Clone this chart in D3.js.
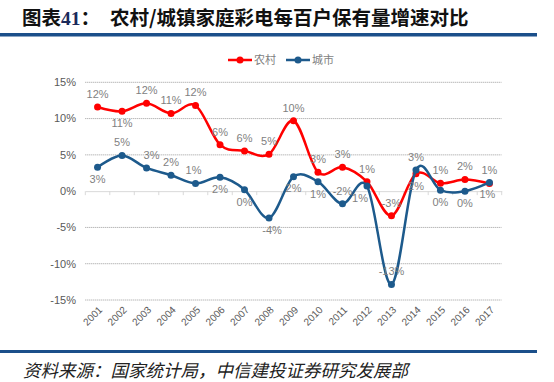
<!DOCTYPE html>
<html><head><meta charset="utf-8">
<script src="https://cdn.jsdelivr.net/npm/d3@7"></script>
<style>
html,body{margin:0;padding:0;background:#fff;}
svg{display:block;}
</style></head>
<body>
<svg id="c" width="554" height="382"></svg>
<script>
const years = ["2001","2002","2003","2004","2005","2006","2007","2008","2009","2010","2011","2012","2013","2014","2015","2016","2017"];
const rural = [11.6,11.0,12.1,10.7,11.8,6.4,5.55,5.1,9.7,2.6,3.3,1.3,-3.4,2.4,1.1,1.6,1.06];
const urban = [3.3,4.9,3.2,2.2,1.06,1.9,0.2,-3.7,2.0,1.3,-1.75,0.7,-12.85,2.9,0.14,0.0,1.2];
const seriesNames = ["农村","城市"];
const yTicks = [-15,-10,-5,0,5,10,15];
// label placement: a = above, b = below
const ruralPos = ["a","b","a","a","a","a","a","a","a","a","a","a","a","b","a","a","a"];
const urbanPos = ["b","a","a","a","a","b","b","b","b","b","a","b","a","a","b","b","b"];
const urbanDx  = [0,0,5,0,-2,0,0,3,0,0,0,-7,0,0,0,0,-2];

const svg = d3.select("#c");
const red = "#ff0000", blue = "#1d5a8c", gray = "#7f7f7f", axisGray = "#595959";

// Title
const t = svg.append("text").attr("x", 22).attr("y", 25)
  .attr("font-size", 19.5).attr("font-weight", "bold").attr("fill", "#111")
  .attr("font-family", "'Noto Sans CJK SC', sans-serif");
t.append("tspan").text("图表");
t.append("tspan").attr("font-family", "'Liberation Serif', serif").attr("fill", "#1a2a5a").text("41");
t.append("tspan").text("：");
svg.append("text").attr("x", 110).attr("y", 25)
  .attr("font-size", 19.5).attr("font-weight", "bold").attr("fill", "#111")
  .attr("font-family", "'Noto Sans CJK SC', sans-serif")
  .text("农村/城镇家庭彩电每百户保有量增速对比");
svg.append("rect").attr("x", 0).attr("y", 33).attr("width", 537).attr("height", 3.5).attr("fill", "#1b4f8a");

// Footer
svg.append("rect").attr("x", 0).attr("y", 350).attr("width", 537).attr("height", 3).attr("fill", "#1b4f8a");
svg.append("text").attr("x", 23).attr("y", 377)
  .attr("font-size", 17.5).attr("font-style", "italic").attr("fill", "#222")
  .attr("font-family", "'Noto Sans CJK SC', sans-serif")
  .text("资料来源：国家统计局，中信建投证券研究发展部");

// Scales
const x = d3.scaleBand().domain(years).range([85.3, 501.7]).padding(0);
const y = d3.scaleLinear().domain([-15, 15]).range([300, 82.3]);
const cx = d => x(d) + x.bandwidth() / 2;

// Gridlines
svg.append("g").selectAll("line").data(yTicks.filter(v => v !== 0)).join("line")
  .attr("x1", 85.3).attr("x2", 501.7)
  .attr("y1", d => y(d)).attr("y2", d => y(d))
  .attr("stroke", "#9a9a9a").attr("stroke-width", 1).attr("stroke-dasharray", "1,1");

// Y axis labels
svg.append("g").selectAll("text").data(yTicks).join("text")
  .attr("x", 76).attr("y", d => y(d)).attr("dy", "0.35em")
  .attr("text-anchor", "end").attr("font-size", 11)
  .attr("font-family", "'Liberation Sans', Arial, sans-serif").attr("fill", axisGray)
  .text(d => d + "%");

// X axis at 0
const xAxis = d3.axisBottom(x).tickSize(0).tickFormat("");
const gx = svg.append("g").attr("transform", `translate(0,${y(0)})`).call(xAxis);
gx.select(".domain").attr("stroke", "#d9d9d9");
svg.append("g").selectAll("line").data(years.concat(["end"])).join("line")
  .attr("x1", (d, i) => 85.3 + i * x.bandwidth()).attr("x2", (d, i) => 85.3 + i * x.bandwidth())
  .attr("y1", y(0)).attr("y2", y(0) + 4)
  .attr("stroke", "#d9d9d9");

// X tick labels
svg.append("g").selectAll("text").data(years).join("text")
  .attr("transform", d => `translate(${cx(d) + 3},${308}) rotate(-45)`)
  .attr("text-anchor", "end").attr("dy", "0.35em")
  .attr("font-size", 10).attr("font-family", "'Liberation Sans', Arial, sans-serif")
  .attr("fill", axisGray).text(d => d);

// Lines
const line = d3.line().x((d, i) => cx(years[i])).y(d => y(d)).curve(d3.curveCatmullRom.alpha(0));
const series = [
  {name: seriesNames[0], values: rural, color: red, pos: ruralPos, dx: years.map(() => 0)},
  {name: seriesNames[1], values: urban, color: blue, pos: urbanPos, dx: urbanDx}
];
series.forEach(s => {
  svg.append("path").attr("d", line(s.values)).attr("fill", "none")
    .attr("stroke", s.color).attr("stroke-width", 2.5);
  svg.append("g").selectAll("circle").data(s.values).join("circle")
    .attr("cx", (d, i) => cx(years[i])).attr("cy", d => y(d)).attr("r", 3.5)
    .attr("fill", s.color);
});
const fmt = v => { const r = Math.round(v); return (r === 0 ? 0 : r) + "%"; };
series.forEach(s => {
  svg.append("g").selectAll("text").data(s.values).join("text")
    .attr("x", (d, i) => cx(years[i]) + s.dx[i])
    .attr("y", (d, i) => y(d) + (s.pos[i] === "a" ? -13 : 12))
    .attr("dy", "0.35em").attr("text-anchor", "middle")
    .attr("font-size", 11).attr("font-family", "'Liberation Sans', Arial, sans-serif")
    .attr("fill", gray).text(d => fmt(d));
});

// Legend
const legend = [
  {name: seriesNames[0], color: red, x: 228},
  {name: seriesNames[1], color: blue, x: 286}
];
legend.forEach(l => {
  svg.append("line").attr("x1", l.x).attr("x2", l.x + 24).attr("y1", 60).attr("y2", 60)
    .attr("stroke", l.color).attr("stroke-width", 2.5);
  svg.append("circle").attr("cx", l.x + 12).attr("cy", 60).attr("r", 3.5).attr("fill", l.color);
  svg.append("text").attr("x", l.x + 26).attr("y", 60).attr("dy", "0.35em")
    .attr("font-size", 11).attr("font-family", "'Noto Sans CJK SC', sans-serif")
    .attr("fill", gray).text(l.name);
});
</script>
</body></html>
